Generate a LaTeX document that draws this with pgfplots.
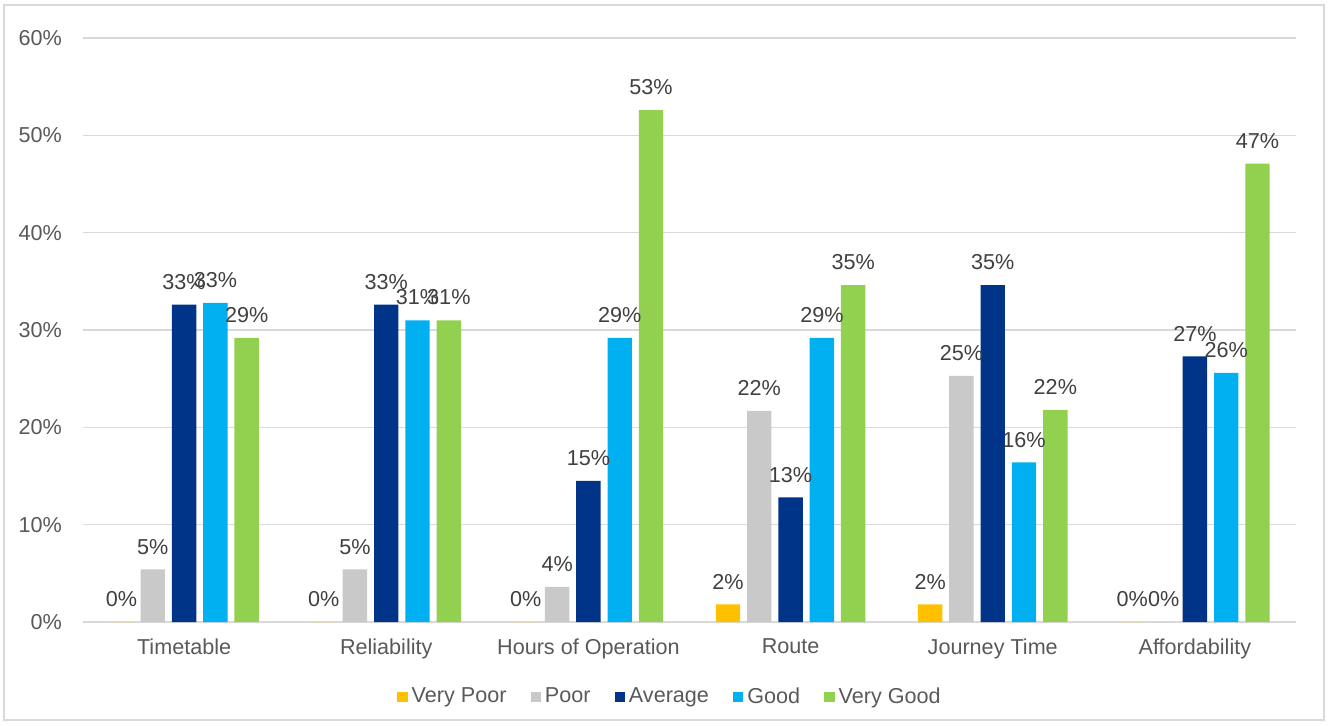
\documentclass[border=0pt]{standalone}
\usepackage{pgfplots}
\pgfplotsset{compat=1.18}
\usepackage{fontspec}
\setmainfont{Liberation Sans}
\definecolor{vpoor}{HTML}{FFC000}
\definecolor{poor}{HTML}{C9C9C9}
\definecolor{avg}{HTML}{003489}
\definecolor{good}{HTML}{00B0F0}
\definecolor{vgood}{HTML}{92D050}
\definecolor{gridc}{HTML}{D9D9D9}
\definecolor{txt}{HTML}{595959}
\definecolor{lbl}{HTML}{404040}
\begin{document}
\begin{tikzpicture}[x=1pt,y=1pt]
\path[use as bounding box] (0,0) rectangle (664,362.5);
\draw[gridc, line width=0.75pt] (2,2.5) rectangle (662,360);
\begin{axis}[
  at={(41.5pt,51.5pt)}, anchor=south west,
  scale only axis, width=606.5pt, height=292pt,
  xmin=-0.5, xmax=5.5, ymin=0, ymax=60,
  enlargelimits=false,
  xtick={0,...,5},
  xticklabels={Timetable,Reliability,Hours of Operation,Route,Journey Time,Affordability},
  ytick={0,10,...,60},
  yticklabel={\pgfmathprintnumber{\tick}\%},
  /pgf/number format/assume math mode=true,
  font=\fontsize{10.8}{12}\selectfont,
  ticklabel style={text=txt},
  yticklabel style={xshift=-7pt},
  xticklabel style={yshift=-5pt},
  major tick length=0pt,
  axis x line*=bottom, axis y line*=left,
  x axis line style={gridc, line width=0.75pt, -},
  y axis line style={draw=none},
  ymajorgrids, grid style={gridc, line width=0.75pt},
  ybar=3.45pt, bar width=12.2pt,
  nodes near coords={\pgfmathprintnumber[fixed,precision=0]{\pgfplotspointmeta}\%},
  every node near coord/.append style={text=lbl, font=\fontsize{10.8}{12}\selectfont, yshift=4pt},
  legend columns=5,
  legend style={at={(0.5,0)}, anchor=center, xshift=-9.25pt, yshift=-37.5pt, draw=none, fill=none,
    font=\fontsize{10.8}{12}\selectfont, text=txt,
    /tikz/every even column/.append style={column sep=10pt},
    /tikz/every odd column/.append style={column sep=0pt}},
  legend image code/.code={\fill[#1] (0pt,-2.6pt) rectangle (5.2pt,2.6pt);},
]
\addplot[fill=vpoor, draw=none] coordinates {(0,0) (1,0) (2,0) (3,1.8) (4,1.8) (5,0)};
\addplot[fill=poor, draw=none] coordinates {(0,5.4) (1,5.4) (2,3.6) (3,21.7) (4,25.3) (5,0)};
\addplot[fill=avg, draw=none] coordinates {(0,32.6) (1,32.6) (2,14.5) (3,12.8) (4,34.6) (5,27.3)};
\addplot[fill=good, draw=none] coordinates {(0,32.8) (1,31.0) (2,29.2) (3,29.2) (4,16.4) (5,25.6)};
\addplot[fill=vgood, draw=none] coordinates {(0,29.2) (1,31.0) (2,52.6) (3,34.6) (4,21.8) (5,47.1)};
\legend{Very Poor,Poor,Average,Good,Very Good}
\end{axis}
\end{tikzpicture}
\end{document}
